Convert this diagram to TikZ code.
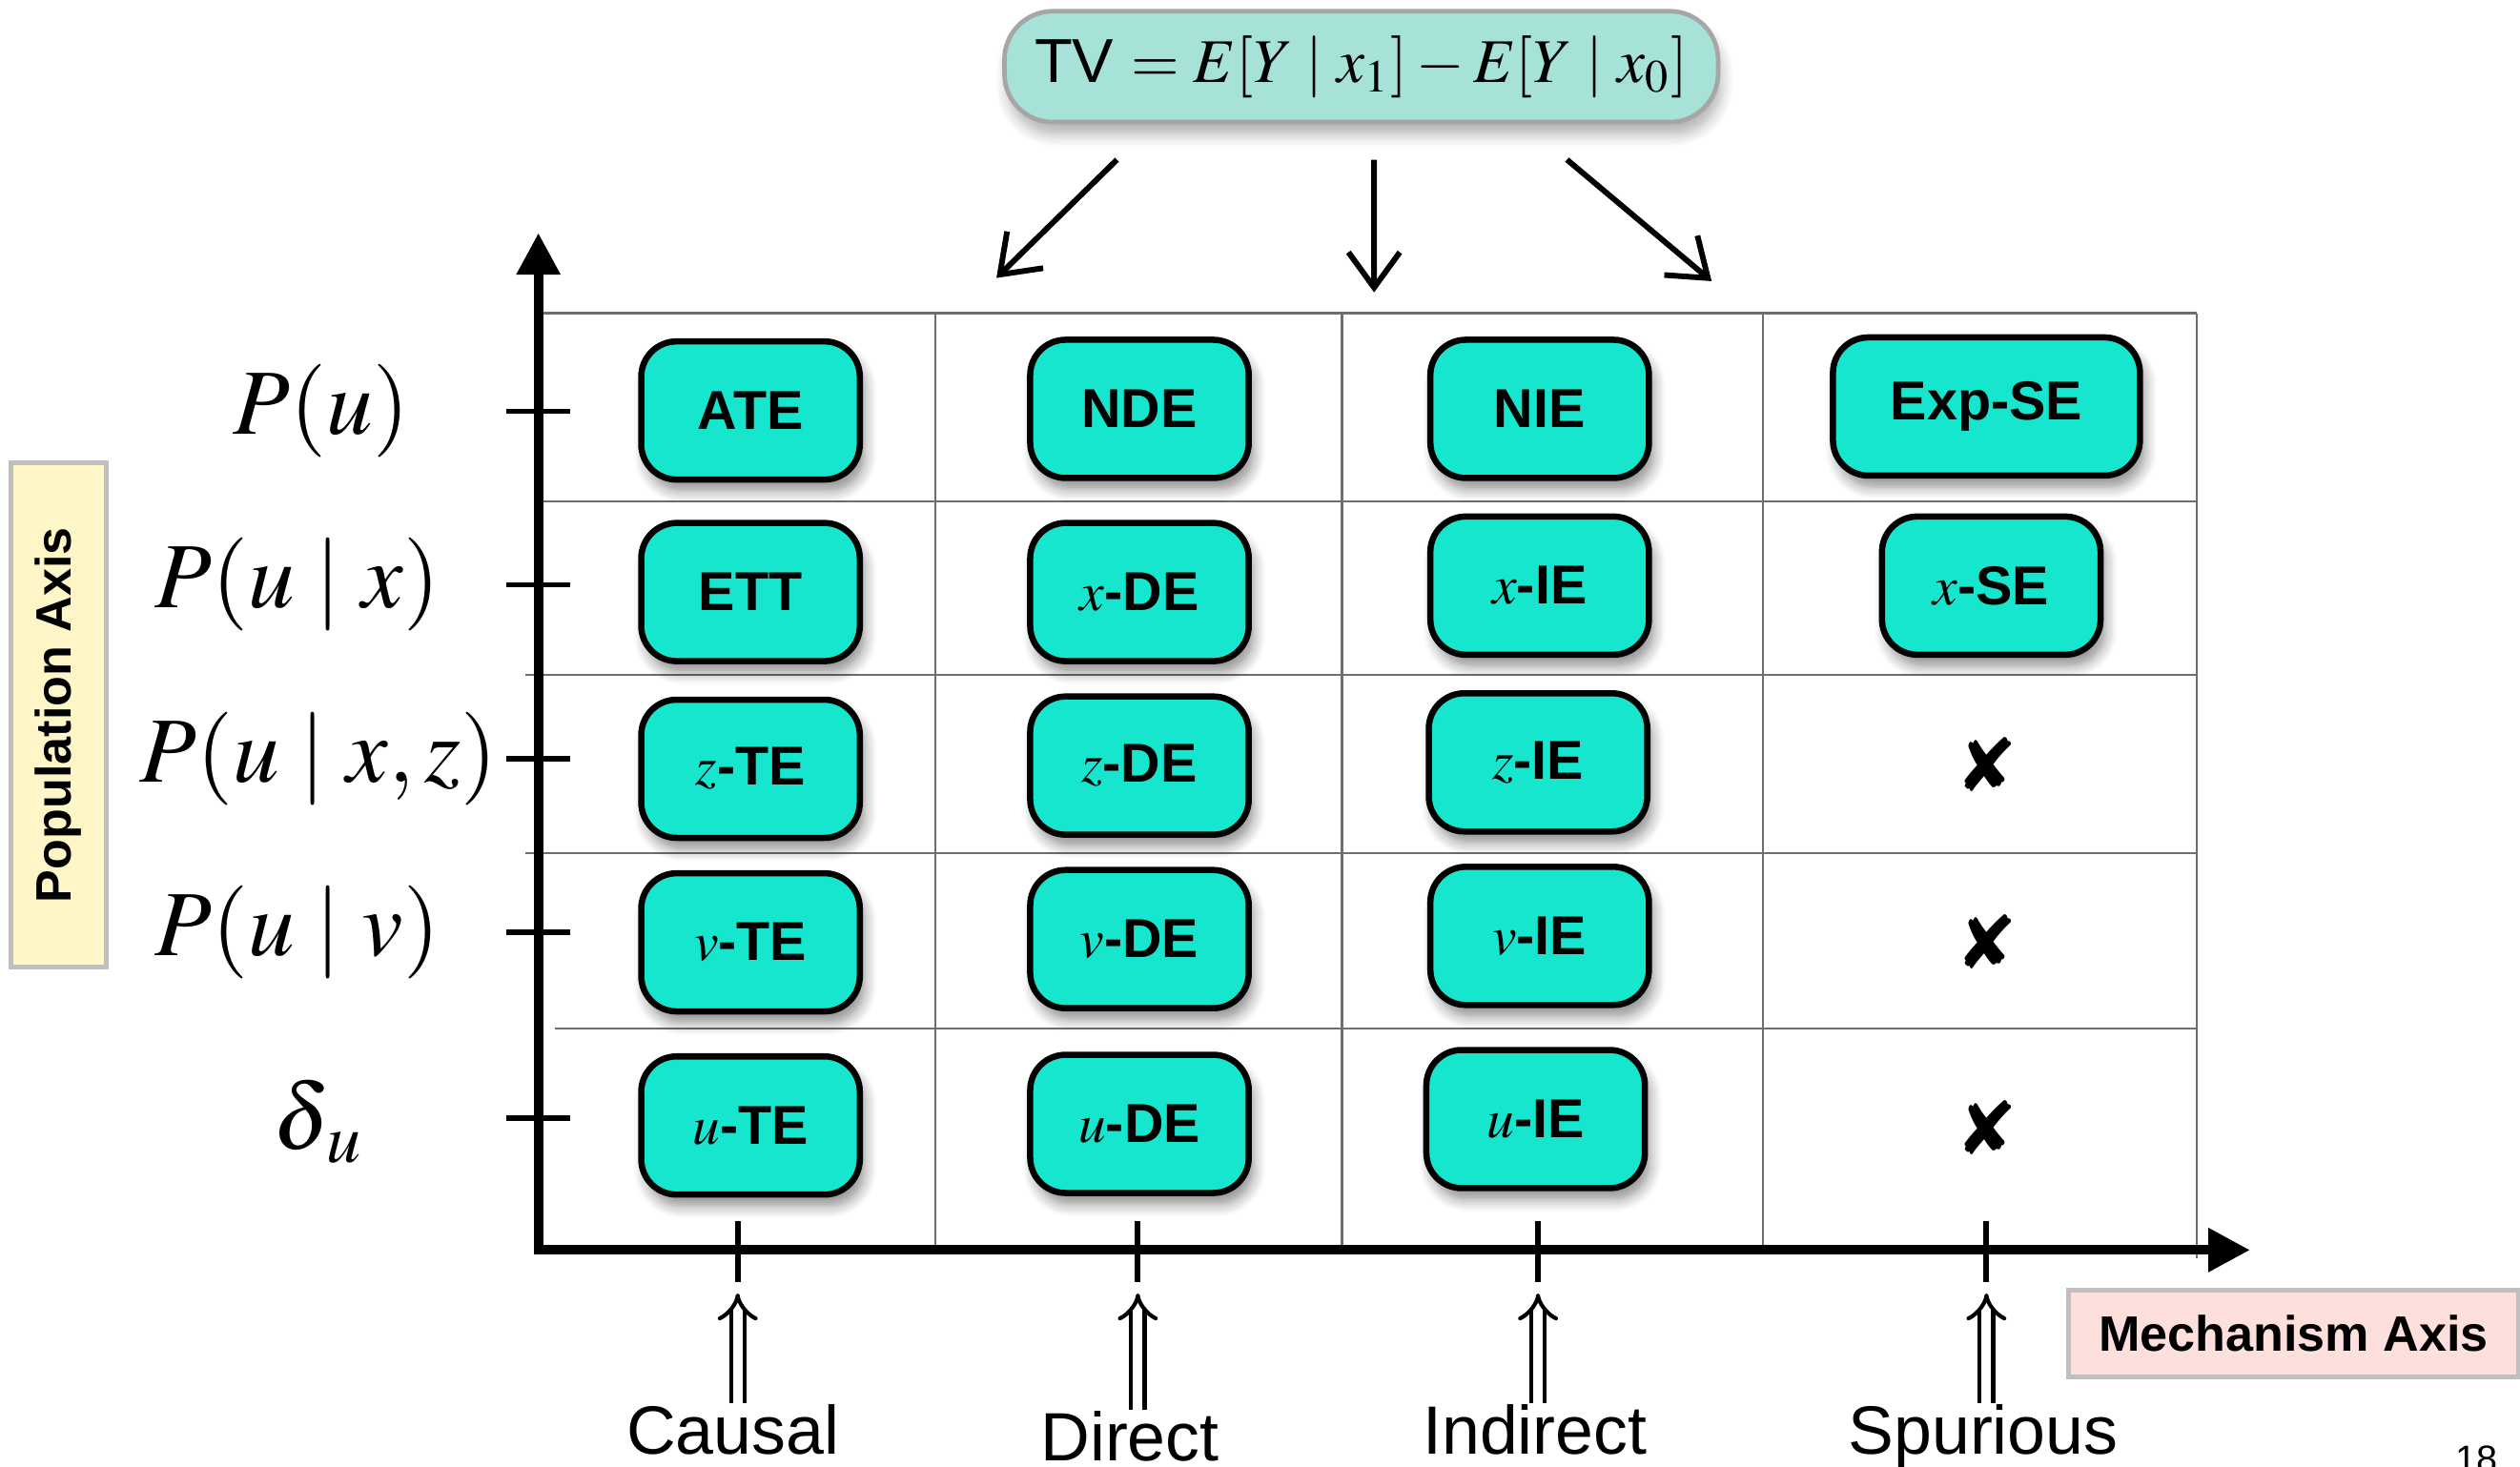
\documentclass[tikz,border=0pt]{standalone}
\usepackage{mathptmx}
\usepackage[no-math]{fontspec}
\setmainfont{Liberation Sans}
\newfontfamily\dingfont{DejaVu Sans}
\usetikzlibrary{arrows.meta,shadows.blur}

\definecolor{cellteal}{RGB}{23,230,207}
\definecolor{paleteal}{RGB}{167,226,217}
\definecolor{paleyellow}{RGB}{255,246,200}
\definecolor{palepink}{RGB}{253,224,220}
\definecolor{gridgray}{RGB}{110,110,110}

\begin{document}
\begin{tikzpicture}[
    measure/.style={draw=black, line width=1.1pt, fill=cellteal, rounded corners=0.22cm,
      minimum width=1.36cm, minimum height=0.86cm, inner sep=0pt,
      font=\fontsize{9.7}{11}\selectfont\bfseries,
      blur shadow={shadow xshift=0.3mm, shadow yshift=-0.7mm, shadow opacity=45, shadow blur steps=6}},
    nogo/.style={font=\dingfont\fontsize{13}{13}\selectfont},
    level/.style={font=\fontsize{16.5}{18}\selectfont, inner sep=0pt},
    mech/.style={font=\fontsize{12.1}{14}\selectfont, inner sep=0pt, anchor=base},
    axislabel/.style={draw=black!25, line width=0.9pt, inner sep=0pt, font=\fontsize{8.8}{10}\selectfont\bfseries},
    gridline/.style={gridgray, line width=0.4pt},
    tickmark/.style={line width=1pt},
    pointer/.style={line width=1pt, -{Straight Barb[length=2.2mm, width=3.2mm, line width=1pt]}},
    lift/.style={double, double distance=1.7pt, line width=0.7pt, -{Implies[length=1.6mm, width=2.5mm]}}
  ]
  \useasboundingbox (-3.35,-1.35) rectangle (12.33,7.78);

  % Total variation on top
  \node[draw=black!35, line width=0.8pt, fill=paleteal, rounded corners=0.3cm,
    minimum width=4.44cm, minimum height=0.69cm, font=\fontsize{11}{13}\selectfont,
    blur shadow={shadow xshift=0.2mm, shadow yshift=-0.8mm, shadow opacity=30, shadow blur steps=6}]
    (tv) at (5.12,7.365) {TV $= E[Y \mid x_1] - E[Y \mid x_0]$};

  \coordinate (dirA) at (2.85,6.05);
  \coordinate (dirB) at (5.20,5.96);
  \coordinate (dirC) at (7.30,6.03);
  \draw[pointer] ([xshift=-1.52cm,yshift=-0.22cm]tv.south) -- (dirA);
  \draw[pointer] ([xshift=0.08cm,yshift=-0.22cm]tv.south) -- (dirB);
  \draw[pointer] ([xshift=1.28cm,yshift=-0.22cm]tv.south) -- (dirC);

  % Table grid
  \draw[gridline] (0,5.83) -- (10.32,5.83);
  \draw[gridline] (0,4.66) -- (10.32,4.66);
  \draw[gridline] (-0.08,3.58) -- (10.32,3.58);
  \draw[gridline] (-0.08,2.47) -- (10.32,2.47);
  \draw[gridline] (0.1,1.38) -- (10.32,1.38);
  \draw[gridline] (2.47,0) -- (2.47,5.83);
  \draw[gridline] (5.00,0) -- (5.00,5.83);
  \draw[gridline] (7.62,0) -- (7.62,5.83);
  \draw[gridline] (10.32,-0.05) -- (10.32,5.83);

  % Axes
  \draw[line width=1.7pt, {Triangle[length=0.26cm,width=0.26cm]}-{Triangle[length=0.26cm,width=0.26cm]}]
    (0,6.33) -- (0,0) -- (10.65,0);

  % Population ticks
  \draw[tickmark] (-0.2,5.22) -- (0.2,5.22);
  \draw[tickmark] (-0.2,4.14) -- (0.2,4.14);
  \draw[tickmark] (-0.2,3.06) -- (0.2,3.06);
  \draw[tickmark] (-0.2,1.98) -- (0.2,1.98);
  \draw[tickmark] (-0.2,0.82) -- (0.2,0.82);

  % Mechanism ticks
  \draw[tickmark] (1.24,0.18) -- (1.24,-0.2);
  \draw[tickmark] (3.73,0.18) -- (3.73,-0.2);
  \draw[tickmark] (6.22,0.18) -- (6.22,-0.2);
  \draw[tickmark] (9.01,0.18) -- (9.01,-0.2);

  % Population levels
  \node[level] (pu) at (-1.35,5.22) {$P(u)$};
  \node[level] (pux) at (-1.50,4.14) {$P(u \mid x)$};
  \node[level] (puxz) at (-1.37,3.06) {$P(u \mid x, z)$};
  \node[level] (puv) at (-1.50,1.98) {$P(u \mid v)$};
  \node[level] (du) at (-1.37,0.80) {$\delta_{\,u}$};

  % Effects, row by row
  \node[measure] (ate) at (1.32,5.225) {ATE};
  \node[measure] (nde) at (3.74,5.235) {NDE};
  \node[measure] (nie) at (6.23,5.235) {NIE};
  \node[measure, minimum width=1.91cm] (expse) at (9.01,5.25) {Exp-SE};

  \node[measure] (ett) at (1.32,4.095) {ETT};
  \node[measure] (xde) at (3.74,4.095) {$x$-DE};
  \node[measure] (xie) at (6.23,4.135) {$x$-IE};
  \node[measure] (xse) at (9.04,4.135) {$x$-SE};

  \node[measure] (zte) at (1.32,2.995) {$z$-TE};
  \node[measure] (zde) at (3.74,3.015) {$z$-DE};
  \node[measure] (zie) at (6.22,3.035) {$z$-IE};
  \node[nogo] (zse) at (9.01,3.02) {✘};

  \node[measure] (vte) at (1.32,1.915) {$v$-TE};
  \node[measure] (vde) at (3.74,1.935) {$v$-DE};
  \node[measure] (vie) at (6.23,1.955) {$v$-IE};
  \node[nogo] (vse) at (9.01,1.92) {✘};

  \node[measure] (ute) at (1.32,0.775) {$u$-TE};
  \node[measure] (ude) at (3.74,0.785) {$u$-DE};
  \node[measure] (uie) at (6.205,0.815) {$u$-IE};
  \node[nogo] (use) at (9.01,0.76) {✘};

  % Axis names
  \node[axislabel, fill=paleyellow, rotate=90, minimum width=3.14cm, minimum height=0.59cm]
    (popaxis) at (-2.985,3.33) {Population Axis};
  \node[axislabel, fill=palepink, minimum width=2.80cm, minimum height=0.54cm]
    (mechaxis) at (10.92,-0.52) {Mechanism Axis};

  % Mechanisms
  \node[mech] (causal) at (1.21,-1.27) {Causal};
  \node[mech] (direct) at (3.68,-1.31) {Direct};
  \node[mech] (indirect) at (6.20,-1.27) {Indirect};
  \node[mech] (spurious) at (8.99,-1.27) {Spurious};

  \coordinate (upA) at (1.24,-0.27);
  \coordinate (upB) at (3.73,-0.27);
  \coordinate (upC) at (6.22,-0.27);
  \coordinate (upD) at (9.01,-0.27);
  \draw[lift] (causal.north -| upA) -- (upA);
  \draw[lift] (direct.north -| upB) -- (upB);
  \draw[lift] (indirect.north -| upC) -- (upC);
  \draw[lift] (spurious.north -| upD) -- (upD);

  % Slide number
  \node[font=\fontsize{6.7}{8}\selectfont, anchor=north, inner sep=0pt] (slideno) at (12.06,-1.21) {18};
\end{tikzpicture}
\end{document}
